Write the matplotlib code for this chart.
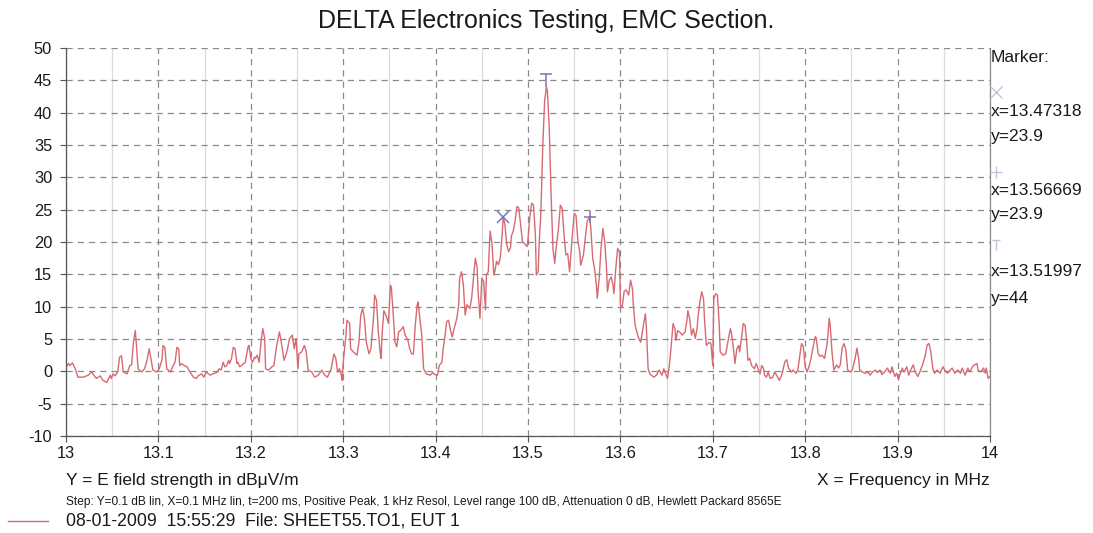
import matplotlib
matplotlib.use("Agg")
import matplotlib.pyplot as plt
from matplotlib.path import Path
from matplotlib.lines import Line2D

# Measured trace: frequency in MHz and E field strength in dBuV/m
freq_mhz = [
    13.000, 13.0025, 13.004, 13.007, 13.010, 13.013, 13.019, 13.024, 13.028, 13.030,
    13.033, 13.037, 13.040, 13.044, 13.048, 13.049, 13.051, 13.053, 13.056, 13.058,
    13.060, 13.062, 13.066, 13.069, 13.071, 13.073, 13.075, 13.076, 13.078, 13.082,
    13.085, 13.088, 13.090, 13.092, 13.094, 13.098, 13.101, 13.104, 13.105, 13.107,
    13.109, 13.113, 13.116, 13.118, 13.120, 13.122, 13.123, 13.125, 13.128, 13.131,
    13.134, 13.138, 13.141, 13.143, 13.147, 13.149, 13.152, 13.156, 13.159, 13.163,
    13.166, 13.168, 13.170, 13.172, 13.174, 13.176, 13.177, 13.179, 13.181, 13.183,
    13.185, 13.186, 13.188, 13.190,
    13.194, 13.197, 13.198, 13.200, 13.202, 13.204, 13.205, 13.207, 13.209, 13.211,
    13.213, 13.215, 13.216, 13.219, 13.223, 13.225, 13.228, 13.231, 13.233, 13.236,
    13.239, 13.242, 13.245, 13.247, 13.249, 13.251, 13.252, 13.255, 13.258, 13.260,
    13.262, 13.266, 13.269, 13.273, 13.277, 13.280, 13.283, 13.287, 13.290, 13.292,
    13.294, 13.296, 13.298, 13.299, 13.300, 13.303, 13.304, 13.307, 13.308, 13.311,
    13.315, 13.317, 13.319, 13.321, 13.323, 13.325, 13.328, 13.330, 13.333, 13.334,
    13.336, 13.338, 13.340, 13.341, 13.342, 13.344, 13.347, 13.349, 13.351, 13.352,
    13.354, 13.356, 13.358, 13.360, 13.362, 13.365, 13.367, 13.370, 13.372, 13.374,
    13.376, 13.378, 13.380, 13.381,
    13.385, 13.387, 13.390, 13.394, 13.397, 13.399, 13.402, 13.404, 13.407, 13.408,
    13.410, 13.412, 13.414, 13.416, 13.418, 13.420, 13.423, 13.425, 13.426, 13.428,
    13.430, 13.432, 13.434, 13.437, 13.439, 13.441, 13.443, 13.445, 13.446, 13.448,
    13.450, 13.452, 13.454, 13.455, 13.457, 13.459, 13.461, 13.463, 13.464, 13.466,
    13.468, 13.470, 13.472, 13.47318, 13.475, 13.477, 13.479, 13.481, 13.482, 13.484,
    13.486, 13.488, 13.490, 13.492, 13.494, 13.497, 13.499,
    13.500, 13.502, 13.504, 13.506, 13.508, 13.509, 13.511, 13.512, 13.514, 13.516,
    13.518, 13.51997, 13.521, 13.523, 13.525, 13.527, 13.529, 13.530, 13.533, 13.535,
    13.537, 13.539, 13.541, 13.543, 13.545, 13.548, 13.550, 13.552, 13.554, 13.556,
    13.557, 13.560, 13.562, 13.564, 13.56669, 13.568, 13.570, 13.572, 13.574, 13.575,
    13.577, 13.579, 13.581, 13.583, 13.585, 13.586, 13.588, 13.590, 13.592, 13.593,
    13.595, 13.597, 13.599, 13.600, 13.602, 13.604, 13.606, 13.609, 13.611, 13.613,
    13.614, 13.616, 13.618, 13.620, 13.622, 13.624, 13.627, 13.628, 13.630,
    13.632, 13.636, 13.639, 13.642, 13.645, 13.647, 13.649, 13.651, 13.653, 13.655,
    13.657, 13.659, 13.660, 13.662, 13.664, 13.667, 13.670, 13.672, 13.673, 13.675,
    13.677, 13.679, 13.681, 13.683, 13.684, 13.686, 13.688, 13.690, 13.691, 13.693,
    13.696, 13.698, 13.700, 13.701, 13.703, 13.705, 13.707, 13.708, 13.711, 13.714,
    13.717, 13.719, 13.720, 13.722, 13.724, 13.726, 13.728, 13.729, 13.731, 13.733,
    13.735, 13.737, 13.738, 13.740, 13.742, 13.745, 13.747, 13.749, 13.751, 13.753,
    13.755, 13.756, 13.758, 13.760, 13.762, 13.765, 13.767, 13.769, 13.772, 13.775,
    13.778, 13.780, 13.782, 13.785, 13.787, 13.790, 13.792, 13.794, 13.796, 13.798,
    13.800, 13.802, 13.804, 13.806, 13.809, 13.811, 13.812, 13.814, 13.816, 13.818,
    13.821, 13.824, 13.826, 13.827, 13.829, 13.831, 13.834, 13.836, 13.838, 13.840,
    13.842, 13.844, 13.846, 13.849, 13.851, 13.854, 13.856, 13.858, 13.859, 13.862,
    13.865, 13.868, 13.870, 13.873, 13.876, 13.878, 13.881, 13.883, 13.886, 13.889,
    13.892, 13.894, 13.897, 13.899, 13.901, 13.903, 13.905, 13.907, 13.910, 13.912,
    13.914, 13.917, 13.919, 13.922, 13.924, 13.927, 13.930, 13.932, 13.934, 13.936,
    13.938, 13.940, 13.943, 13.946, 13.949, 13.951, 13.954, 13.957, 13.959, 13.962,
    13.965, 13.968, 13.970, 13.973, 13.976, 13.978, 13.981, 13.983, 13.986, 13.987,
    13.990, 13.993, 13.995, 13.996, 13.998, 14.000,
]
level_dbuv = [
    0.7, 1.2, 0.9, 1.3, 0.4, -0.9, -0.9, -0.6, -0.1, -0.6,
    -1.1, -0.7, -1.4, -1.7, -0.6, -1.1, -0.4, -0.7, -0.1, 2.2,
    2.4, -0.1, -0.4, 0.9, 1.0, 4.5, 6.3, 4.5, 0.4, -0.1,
    0.4, 1.9, 3.5, 1.9, 0.2, -0.1, 0.4, 1.9, 4.0, 3.7,
    0.4, -0.1, 0.9, 1.4, 3.7, 3.5, 0.9, 1.2, 0.9, 0.7,
    -0.1, -0.9, -1.1, -0.7, -0.4, -0.9, -0.1, -0.6, -0.4, -0.2,
    0.4, 0.2, 1.4, 0.7, 0.9, 1.7, 1.2, 1.9, 3.7, 3.5,
    1.2, 1.4, 0.7, 0.9,
    1.4, 3.8, 4.0, 2.0, 1.4, 2.2, 2.0, 2.5, 1.4, 4.5,
    6.6, 5.1, 0.4, 0.2, 0.7, 0.9, 4.0, 6.1, 4.5, 1.7,
    3.0, 5.1, 5.6, 3.5, 5.1, 0.4, 2.7, 3.0, 4.0, 3.0,
    0.2, -0.1, -0.9, -0.6, 0.2, -0.6, -0.9, 0.4, 2.7, 2.0,
    -0.1, 0.4, -0.6, -1.4, 1.4, 5.6, 7.9, 7.4, 3.5, 3.0,
    2.5, 4.5, 8.7, 9.7, 8.1, 4.5, 2.7, 3.5, 8.7, 11.8,
    11.0, 6.1, 3.0, 2.0, 5.6, 9.4, 8.4, 7.4, 13.3, 13.1,
    9.2, 4.5, 3.8, 6.1, 6.3, 6.9, 5.6, 4.8, 3.5, 2.7,
    2.7, 7.1, 10.2, 10.7,
    5.6, 0.4, -0.4, -0.6, -0.2, -0.5, -0.6, 0.9, 1.5, 3.3,
    5.3, 7.7, 7.9, 6.4, 5.3, 6.6, 8.2, 10.3, 14.4, 15.4,
    13.4, 8.7, 10.3, 9.7, 11.3, 14.4, 17.5, 16.0, 12.3, 8.2,
    14.4, 13.9, 9.5, 14.9, 15.4, 21.7, 19.8, 14.9, 15.4, 17.0,
    16.5, 17.5, 21.1, 23.9, 22.7, 19.6, 18.5, 19.1, 20.9, 21.7,
    23.2, 25.5, 25.3, 22.7, 20.1, 19.6, 19.3,
    20.4, 23.9, 26.0, 25.7, 21.1, 14.9, 15.4, 19.5, 24.7, 35.0,
    41.8, 44.0, 43.3, 37.6, 27.3, 19.0, 16.7, 18.5, 22.1, 25.7,
    25.2, 21.1, 18.0, 18.2, 15.4, 21.1, 24.4, 24.1, 20.1, 18.5,
    16.4, 18.0, 20.6, 23.2, 23.9, 22.1, 17.5, 15.9, 13.3, 11.3,
    14.4, 19.0, 22.1, 20.1, 15.9, 12.3, 14.1, 14.6, 13.3, 12.0,
    15.9, 19.0, 18.5, 10.2, 10.0, 12.3, 12.6, 11.8, 14.1, 12.8,
    10.2, 7.1, 6.0, 5.0, 4.5, 6.3, 8.9, 7.1, 0.4,
    -0.4, -0.9, -0.6, 0.2, -0.6, 0.4, -0.4, -1.1, 0.9, 4.0,
    7.4, 6.6, 4.8, 6.3, 6.1, 5.6, 6.1, 7.9, 9.4, 8.1,
    5.6, 6.6, 5.1, 6.6, 8.4, 10.7, 12.3, 11.2, 8.1, 4.0,
    4.5, 4.3, 0.9, 11.2, 12.0, 11.8, 7.1, 3.0, 2.5, 2.7,
    5.1, 6.6, 6.1, 4.0, 1.2, 3.5, 4.0, 3.0, 5.1, 7.4,
    7.1, 4.0, 1.7, 2.0, 0.9, 0.4, 1.2, 0.4, -0.4, 0.9,
    0.4, -0.6, -0.9, -0.1, -1.1, -0.9, -0.1, -0.6, -1.4, -0.4,
    1.5, 1.8, 0.5, -0.1, 0.2, -0.3, 0.2, 2.3, 4.3, 3.8,
    0.7, -0.1, 0.7, 1.8, 4.1, 5.4, 5.1, 2.8, 2.3, 2.5,
    2.0, 4.6, 8.2, 7.2, 3.0, 0.2, 1.0, 0.5, 1.0, 3.6,
    4.3, 3.3, 0.2, -0.1, 0.2, 2.0, 3.6, 1.8, 0.2, -0.1,
    -0.3, -0.1, -0.6, -0.1, 0.2, -0.2, 0.2, -0.5, -0.1, 0.5,
    -0.3, 0.7, -0.8, -0.3, -1.3, -0.3, 0.5, -0.1, 0.7, -0.6,
    0.2, 1.0, -0.1, -0.8, -0.1, 1.0, 2.5, 4.1, 4.3, 3.0,
    0.5, -0.3, 0.2, -0.3, 0.7, 0.2, -0.3, 0.2, 0.5, -0.3,
    0.2, -0.3, 0.5, -0.6, 0.5, -0.1, 0.7, 1.0, 1.2, 0.2,
    -0.1, 0.5, -0.3, 0.5, -1.1, -0.8,
]

# Marker readouts
marker_freq = [13.47318, 13.56669, 13.51997]
marker_level = [23.9, 23.9, 44.0]

y_ticks = [-10, -5, 0, 5, 10, 15, 20, 25, 30, 35, 40, 45, 50]
x_ticks = [13.0, 13.1, 13.2, 13.3, 13.4, 13.5, 13.6, 13.7, 13.8, 13.9, 14.0]
x_tick_labels = ["13", "13.1", "13.2", "13.3", "13.4", "13.5", "13.6",
                 "13.7", "13.8", "13.9", "14"]
x_minor = [13.05, 13.15, 13.25, 13.35, 13.45, 13.55, 13.65, 13.75, 13.85, 13.95]

plt.rcParams['font.family'] = ['Liberation Sans', 'DejaVu Sans']

W, H = 1093, 533
TRACE = '#d66a72'
MARK = '#7a76b4'
FAINT = '#c4c4d6'
TXT = '#1a1a1a'


def px(x, y):
    return x / W, 1 - y / H


fig = plt.figure(figsize=(W / 100, H / 100), dpi=100)
ax = fig.add_axes([66 / W, 1 - 436 / H, 924 / W, 388 / H])
ax.set_xlim(13.0, 14.0)
ax.set_ylim(-10, 50)

ax.set_yticks(y_ticks)
ax.set_yticklabels([str(v) for v in y_ticks])
ax.set_xticks(x_ticks)
ax.set_xticklabels(x_tick_labels)
ax.set_xticks(x_minor, minor=True)

ax.grid(which='major', axis='both', color='#8a8a8a', lw=0.9, linestyle=(0, (5, 4)))
ax.grid(which='minor', axis='x', color='#dcdcdc', lw=0.9, linestyle='-')
ax.set_axisbelow(True)

ax.tick_params(which='major', direction='out', length=4, width=0.8, color='#555555',
               labelsize=11.8, labelcolor=TXT)
ax.tick_params(axis='y', pad=6)
ax.tick_params(axis='x', pad=3)
ax.tick_params(which='minor', length=0)

ax.spines['top'].set_visible(False)
for s in ('left', 'bottom'):
    ax.spines[s].set_color('#555555')
    ax.spines[s].set_linewidth(0.9)
ax.spines['right'].set_color('#8a8a8a')
ax.spines['right'].set_linewidth(0.9)

ax.plot(freq_mhz, level_dbuv, color=TRACE, lw=1.0, solid_joinstyle='round')

# Marker symbols on the trace
tee = Path([(-0.42, 1.0), (0.42, 1.0), (0.0, 1.0), (0.0, 0.0)],
           [Path.MOVETO, Path.LINETO, Path.MOVETO, Path.LINETO])
ax.plot(marker_freq[0], marker_level[0], marker='x', ms=9, mew=1.1, color=MARK,
        linestyle='none')
ax.plot(marker_freq[1], marker_level[1], marker='+', ms=9, mew=1.1, color=MARK,
        linestyle='none')
ax.plot(marker_freq[2], marker_level[2], marker=tee, ms=19, mew=1.1, color=MARK,
        linestyle='none', clip_on=False)

# Title and annotations
fig.text(*px(546, 21), "DELTA Electronics Testing, EMC Section.", ha='center',
         va='center', fontsize=18, color=TXT)
fig.text(*px(66, 480), "Y = E field strength in dB\u03bcV/m", ha='left', va='center',
         fontsize=12.5, color=TXT)
fig.text(*px(990, 480), "X = Frequency in MHz", ha='right', va='center',
         fontsize=12.5, color=TXT)
fig.text(*px(66, 502), "Step: Y=0.1 dB lin, X=0.1 MHz lin, t=200 ms, Positive Peak, "
         "1 kHz Resol, Level range 100 dB, Attenuation 0 dB, Hewlett Packard 8565E",
         ha='left', va='center', fontsize=8.6, color=TXT)
fig.add_artist(Line2D([8 / W, 48 / W], [1 - 521 / H, 1 - 521 / H], color=TRACE, lw=1.0))
fig.text(*px(66, 521), "08-01-2009  15:55:29  File: SHEET55.TO1, EUT 1", ha='left',
         va='center', fontsize=12.7, color=TXT)

# Marker readout column at the right
fig.text(*px(991, 58), "Marker:", ha='left', va='center', fontsize=12.5, color=TXT)
sym_y = [92, 172, 250]
sym_marks = ['x', '+', tee]
sym_ms = [9, 9, 15]
for yy, mk, ms in zip(sym_y, sym_marks, sym_ms):
    fig.add_artist(Line2D([996 / W], [1 - yy / H], marker=mk, ms=ms, mew=1.0,
                          color=FAINT, linestyle='none'))
read_y = [(112, 137), (190, 215), (272, 298)]
for (yx, yv), f, v in zip(read_y, marker_freq, marker_level):
    fig.text(*px(991, yx), f"x={f:.5f}", ha='left', va='center', fontsize=12.5, color=TXT)
    fig.text(*px(991, yv), f"y={v:g}", ha='left', va='center', fontsize=12.5, color=TXT)

fig.savefig("out.png", dpi=100, facecolor='white')
